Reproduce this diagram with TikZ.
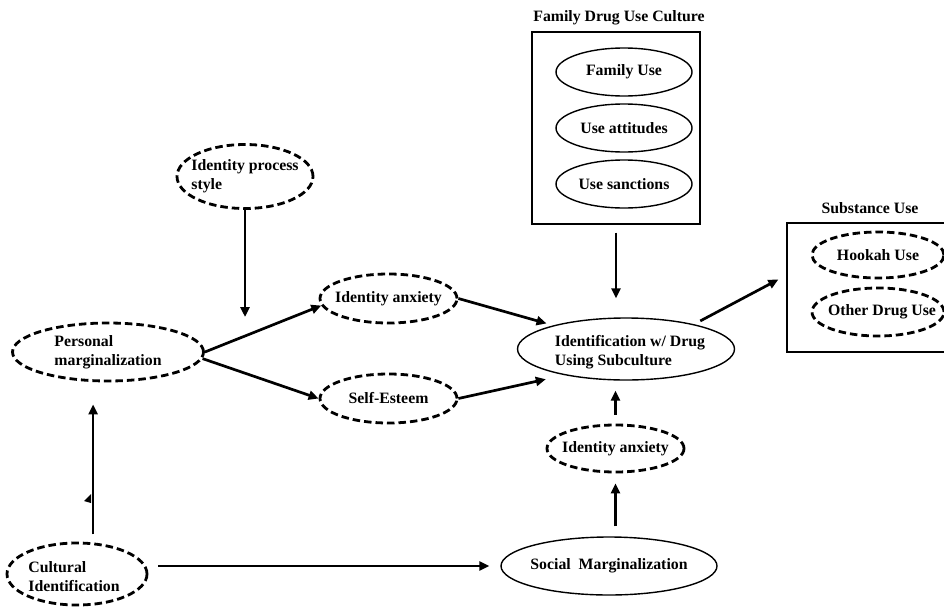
\documentclass[tikz,border=0pt]{standalone}
\usepackage{fontspec}
\setmainfont{Liberation Serif}
\usetikzlibrary{shapes.geometric,arrows.meta,calc}
\begin{document}
\begin{tikzpicture}[x=1pt,y=-1pt,
 dell/.style={ellipse,draw,line width=2.8pt,dash pattern=on 7.5pt off 4pt,inner sep=0pt},
 sell/.style={ellipse,draw,line width=1.4pt,inner sep=0pt},
 lbl/.style={font=\bfseries\fontsize{15.8}{19}\selectfont,align=left,inner sep=0pt},
 arr/.style={line width=2.7pt,-{Triangle[length=10pt,width=9pt]}},
 boxst/.style={draw,line width=1.3pt,inner sep=0pt}]
\useasboundingbox (0,0) rectangle (944,608);
\clip (0,0) rectangle (944,608);

% left part
\node[dell,minimum width=136pt,minimum height=64pt] (ips) at (245,176.5) {};
\node[lbl] (ipst) at (ips.center) {Identity process\\style};
\node[dell,minimum width=191pt,minimum height=58pt] (pm) at (108,352) {};
\node[lbl] (pmt) at (pm.center) {Personal\\marginalization};
\node[dell,minimum width=137pt,minimum height=49pt] (ia1) at (388.5,298.5) {};
\node[lbl] (ia1t) at (ia1.center) {Identity anxiety};
\node[dell,minimum width=137pt,minimum height=49pt] (se) at (388.5,398.5) {};
\node[lbl] (set) at (se.center) {Self-Esteem};
\node[dell,minimum width=140pt,minimum height=62pt] (cult) at (77,574) {};
\node[lbl] (cultt) at ($(cult.center)+(-3,3)$) {Cultural\\Identification};

% centre
\node[sell,minimum width=217pt,minimum height=62pt] (idw) at (626,349) {};
\node[lbl] (idwt) at ($(idw.center)+(4,3)$) {Identification w/ Drug\\Using Subculture};
\node[dell,minimum width=137pt,minimum height=47pt] (ia2) at (615.5,448.5) {};
\node[lbl] (ia2t) at (ia2.center) {Identity anxiety};
\node[sell,minimum width=216pt,minimum height=58pt] (soc) at (609,566) {};
\node[lbl] (soct) at (soc.center) {Social~ Marginalization};

% family box
\node[lbl] (famt) at (619,18) {Family Drug Use Culture};
\node[boxst,minimum width=168pt,minimum height=192pt] (fam) at (616,128) {};
\node[sell,minimum width=136pt,minimum height=48pt] (fu) at (624,72) {};
\node[lbl] (fut) at (fu.center) {Family Use};
\node[sell,minimum width=136pt,minimum height=48pt] (ua) at (624,128) {};
\node[lbl] (uat) at (ua.center) {Use attitudes};
\node[sell,minimum width=136pt,minimum height=48pt] (us) at (624,184) {};
\node[lbl] (ust) at (us.center) {Use sanctions};

% substance box
\node[lbl] (subt) at (870,208) {Substance Use};
\node[boxst,minimum width=173pt,minimum height=129pt] (sub) at (873.5,287.5) {};
\node[dell,minimum width=132pt,minimum height=46pt] (hk) at (878,255) {};
\node[lbl] (hkt) at (hk.center) {Hookah Use};
\node[dell,minimum width=132pt,minimum height=48pt] (od) at (878,312) {};
\node[lbl] (odt) at ($(od.center)+(4,0)$) {Other Drug Use};

% connectors
\coordinate (mod) at (245,317);
\draw[arr] (ips.south) -- (mod);
\draw[arr] (pm.east) -- (ia1.186);
\draw[arr] (pm.-4) -- (se.west);
\draw[arr,shorten >=7pt] (ia1.east) -- (idw.162);
\draw[arr,shorten >=19pt] (se.east) -- (idw.203);
\draw[arr,shorten <=7pt] (idw.20) -- ($(sub.west)+(-8,-8)$);
\draw[arr,shorten <=8pt,shorten >=19pt] (fam.south) -- (fam.south |- idw.north);
\draw[arr,shorten <=9pt,shorten >=10pt] (ia2.north) -- (ia2.north |- idw.south);
\draw[arr,shorten <=10pt,shorten >=10pt] (ia2.south |- soc.north) -- (ia2.south);
\draw[arr,shorten <=8pt,shorten >=22pt] (cult.63) -- (cult.63 |- pm.south);
\draw[arr,shorten <=10pt,shorten >=11pt] (cult.east |- soc.west) -- (soc.west);
\fill (91,494) -- (84,501) -- (91,503) -- cycle;
\end{tikzpicture}
\end{document}
